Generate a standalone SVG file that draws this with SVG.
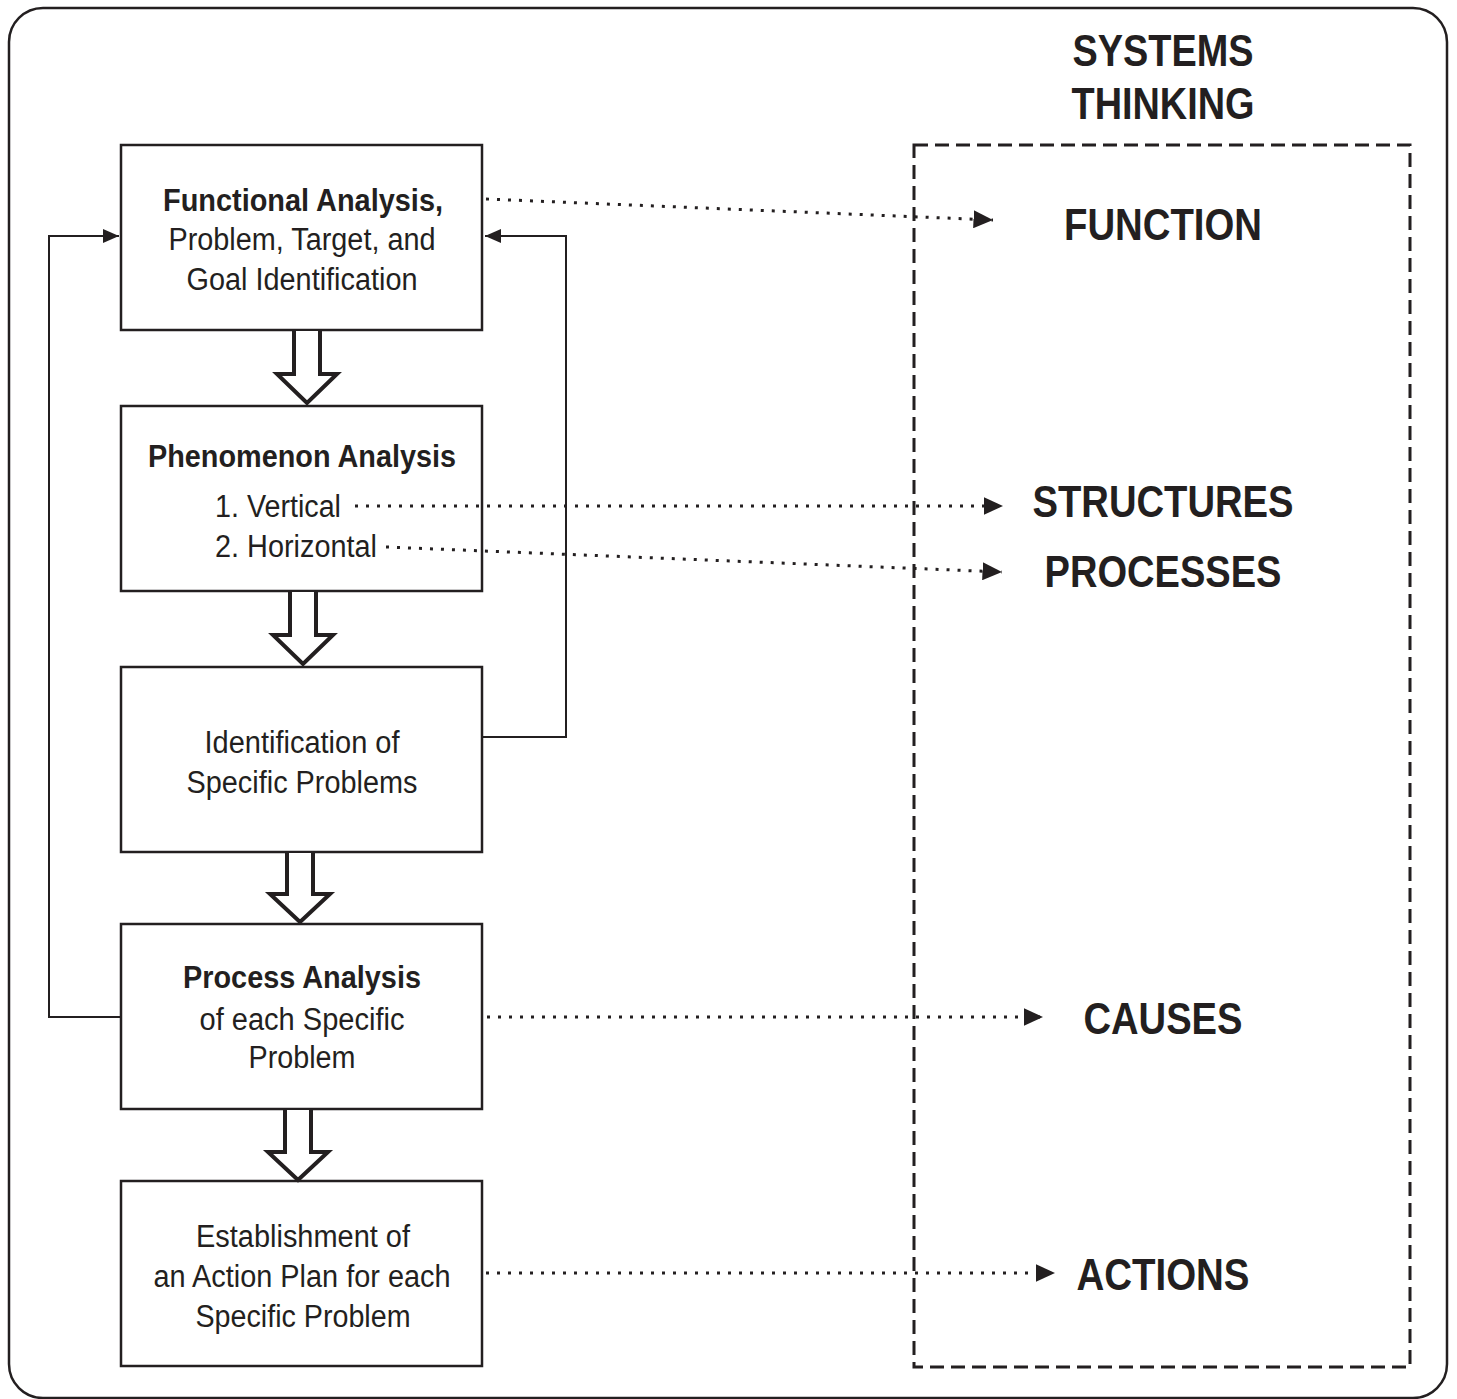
<svg xmlns="http://www.w3.org/2000/svg" width="1457" height="1399" viewBox="0 0 1457 1399">
<style>
.frame{fill:none;stroke:#231f20;stroke-width:2.5}
.box{fill:#fff;stroke:#231f20;stroke-width:2.5}
.dash{fill:none;stroke:#231f20;stroke-width:3;stroke-dasharray:14 7}
.hollow{fill:#fff;stroke:#231f20;stroke-width:4;stroke-linejoin:miter}
.fb{fill:none;stroke:#231f20;stroke-width:2}
.dot{fill:none;stroke:#231f20;stroke-width:3;stroke-dasharray:3 8}
.t{font-family:"Liberation Sans Narrow","Liberation Sans",Arial,sans-serif;font-size:31px;fill:#231f20;text-anchor:middle}
.b{font-weight:bold}
.big{font-family:"Liberation Sans Narrow","Liberation Sans",Arial,sans-serif;font-size:44px;font-weight:bold;fill:#231f20;text-anchor:middle}
</style>
<defs>
<marker id="ah" markerWidth="8" markerHeight="8" refX="8" refY="4" orient="auto" markerUnits="strokeWidth"><path d="M0,0.5 L8,4 L0,7.5 Z" fill="#231f20"/></marker>
<marker id="ad" markerWidth="6.5" markerHeight="6" refX="6.5" refY="3" orient="auto" markerUnits="strokeWidth"><path d="M0,0 L6.5,3 L0,6 Z" fill="#231f20"/></marker>
</defs>
<rect class="frame" x="9" y="8" width="1438" height="1390" rx="34" ry="34"/>
<rect class="dash" x="914" y="145" width="496" height="1222"/>
<g id="title"><text class="big" x="1163" y="66" textLength="181" lengthAdjust="spacingAndGlyphs">SYSTEMS</text><text class="big" x="1163" y="119" textLength="183" lengthAdjust="spacingAndGlyphs">THINKING</text></g>
<g id="n1"><rect class="box" x="121" y="145" width="361" height="185"/>
<text class="t b" x="303" y="211" textLength="280" lengthAdjust="spacingAndGlyphs">Functional Analysis,</text>
<text class="t" x="302" y="250" textLength="267" lengthAdjust="spacingAndGlyphs">Problem, Target, and</text>
<text class="t" x="302" y="290" textLength="231" lengthAdjust="spacingAndGlyphs">Goal Identification</text></g>
<g id="n2"><rect class="box" x="121" y="406" width="361" height="185"/>
<text class="t b" x="302" y="467" textLength="308" lengthAdjust="spacingAndGlyphs">Phenomenon Analysis</text>
<text class="t" x="278" y="517" textLength="126" lengthAdjust="spacingAndGlyphs">1. Vertical</text>
<text class="t" x="296" y="557" textLength="162" lengthAdjust="spacingAndGlyphs">2. Horizontal</text></g>
<g id="n3"><rect class="box" x="121" y="667" width="361" height="185"/>
<text class="t" x="302" y="753" textLength="195" lengthAdjust="spacingAndGlyphs">Identification of</text>
<text class="t" x="302" y="793" textLength="231" lengthAdjust="spacingAndGlyphs">Specific Problems</text></g>
<g id="n4"><rect class="box" x="121" y="924" width="361" height="185"/>
<text class="t b" x="302" y="988" textLength="238" lengthAdjust="spacingAndGlyphs">Process Analysis</text>
<text class="t" x="302" y="1030" textLength="205" lengthAdjust="spacingAndGlyphs">of each Specific</text>
<text class="t" x="302" y="1068" textLength="107" lengthAdjust="spacingAndGlyphs">Problem</text></g>
<g id="n5"><rect class="box" x="121" y="1181" width="361" height="185"/>
<text class="t" x="303" y="1247" textLength="214" lengthAdjust="spacingAndGlyphs">Establishment of</text>
<text class="t" x="302" y="1287" textLength="297" lengthAdjust="spacingAndGlyphs">an Action Plan for each</text>
<text class="t" x="303" y="1327" textLength="215" lengthAdjust="spacingAndGlyphs">Specific Problem</text></g>
<g id="labels">
<text class="big" x="1163" y="240" textLength="198" lengthAdjust="spacingAndGlyphs">FUNCTION</text>
<text class="big" x="1163" y="517" textLength="261" lengthAdjust="spacingAndGlyphs">STRUCTURES</text>
<text class="big" x="1163" y="587" textLength="237" lengthAdjust="spacingAndGlyphs">PROCESSES</text>
<text class="big" x="1163" y="1034" textLength="159" lengthAdjust="spacingAndGlyphs">CAUSES</text>
<text class="big" x="1163" y="1290" textLength="173" lengthAdjust="spacingAndGlyphs">ACTIONS</text>
</g>
<g id="connectors">
<path class="fb" d="M121,1017 H49 V236 H119" marker-end="url(#ah)"/>
<path class="fb" d="M483,737 H566 V236 H485" marker-end="url(#ah)"/>
<path class="dot" d="M486,199 L993,220" marker-end="url(#ad)"/>
<path class="dot" d="M355,506 L1003,506" marker-end="url(#ad)"/>
<path class="dot" d="M386,547 L1002,572" marker-end="url(#ad)"/>
<path class="dot" d="M487,1017 L1043,1017" marker-end="url(#ad)"/>
<path class="dot" d="M486,1273 L1055,1273" marker-end="url(#ad)"/>
<path class="hollow" d="M294,331 V374 H277 L307,403 L337,374 H320 V331"/>
<path class="hollow" d="M290,592 V635 H273 L303,664 L333,635 H316 V592"/>
<path class="hollow" d="M287,853 V894 H270 L300,922 L330,894 H313 V853"/>
<path class="hollow" d="M285,1110 V1152 H268 L298,1180 L328,1152 H311 V1110"/>
</g>
</svg>
